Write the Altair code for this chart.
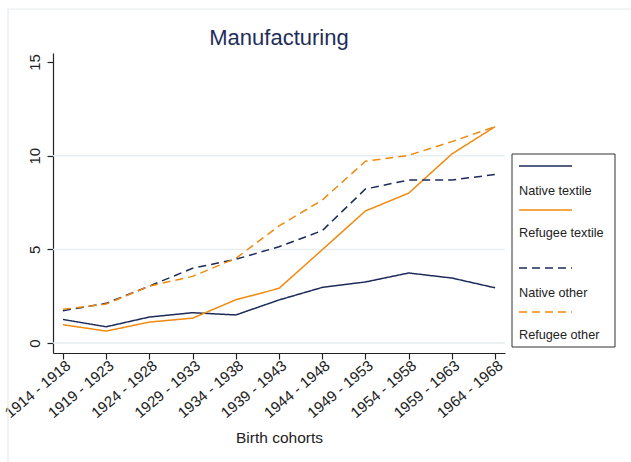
import altair as alt
import pandas as pd

# Birth cohorts on the x axis
cohorts = [
    "1914 - 1918", "1919 - 1923", "1924 - 1928", "1929 - 1933", "1934 - 1938",
    "1939 - 1943", "1944 - 1948", "1949 - 1953", "1954 - 1958", "1959 - 1963",
    "1964 - 1968",
]

# Share employed in manufacturing (%), by group
native_textile = [1.26, 0.87, 1.39, 1.62, 1.50, 2.30, 2.97, 3.26, 3.74, 3.47, 2.95]
refugee_textile = [0.98, 0.64, 1.12, 1.33, 2.31, 2.92, 4.98, 7.05, 8.00, 10.09, 11.55]
native_other = [1.73, 2.12, 3.04, 3.99, 4.47, 5.14, 6.00, 8.22, 8.70, 8.70, 9.00]
refugee_other = [1.80, 2.08, 3.04, 3.56, 4.52, 6.25, 7.63, 9.70, 10.02, 10.75, 11.55]

series_names = ["Native textile", "Refugee textile", "Native other", "Refugee other"]
y_ticks = [0, 5, 10, 15]
grid_values = [0, 5, 10]
title_text = "Manufacturing"

NAVY = "#1c2b5a"
ORANGE = "#f08a0e"
series_colors = [NAVY, ORANGE, NAVY, ORANGE]
series_dashes = [[1, 0], [1, 0], [8, 5], [8, 5]]
FONT = "Liberation Sans"

rows = []
for name, vals in zip(series_names, [native_textile, refugee_textile, native_other, refugee_other]):
    for c, v in zip(cohorts, vals):
        rows.append({"cohort": c, "series": name, "share": v})
df = pd.DataFrame(rows)

W, H = 452, 300
LEFT, TOP = 53, 53

y_scale = alt.Scale(domain=[-0.53, 15.48], nice=False, zero=False)
y_axis = alt.Axis(
    values=y_ticks,
    title=None,
    grid=False,
    labelAngle=270,
    labelAlign="center",
    labelBaseline="bottom",
    labelFontSize=15,
    labelPadding=5,
    tickSize=6,
)

one_row = pd.DataFrame({"k": [0]})

# light outer frame around the graph region
frame = alt.Chart(one_row).mark_rect(
    fill=None, stroke="#e4ecee", strokeWidth=1.2
).encode(
    x=alt.value(8 - LEFT), x2=alt.value(700), y=alt.value(9 - TOP), y2=alt.value(520)
)

# graph title, centred over the plot region
title = alt.Chart(one_row).mark_text(
    text=title_text, fontSize=22, font=FONT, color="#1f2d5a",
    align="center", baseline="middle",
).encode(x=alt.value(W / 2), y=alt.value(38 - TOP))

grid = alt.Chart(pd.DataFrame({"share": grid_values})).mark_rule(
    color="#e6eef1", strokeWidth=1.5
).encode(y=alt.Y("share:Q", scale=y_scale, axis=y_axis))

lines = alt.Chart(df).mark_line(strokeWidth=1.5).encode(
    x=alt.X(
        "cohort:O",
        sort=cohorts,
        scale=alt.Scale(type="point", padding=0.23),
        axis=alt.Axis(
            title="Birth cohorts",
            labelAngle=-40,
            labelAlign="right",
            labelBaseline="middle",
            labelFontSize=15,
            labelPadding=4,
            labelOffset=5,
            tickSize=6,
            titleFontSize=15.5,
            titleFontWeight="normal",
            titleY=84,
            titleBaseline="middle",
        ),
    ),
    y=alt.Y("share:Q", scale=y_scale, axis=y_axis),
    color=alt.Color(
        "series:N",
        scale=alt.Scale(domain=series_names, range=series_colors),
        legend=None,
    ),
    strokeDash=alt.StrokeDash(
        "series:N",
        scale=alt.Scale(domain=series_names, range=series_dashes),
        legend=None,
    ),
)

# Legend box with keys placed above their labels
key_y = [166, 210, 268, 312]
label_y = [191, 233, 293, 335]
legend_layers = [
    alt.Chart(one_row).mark_rect(
        fill="white", stroke="#333333", strokeWidth=1
    ).encode(
        x=alt.value(512 - LEFT), x2=alt.value(615 - LEFT),
        y=alt.value(154 - TOP), y2=alt.value(347 - TOP),
    )
]
for name, col, dash, ky, ly in zip(series_names, series_colors, series_dashes, key_y, label_y):
    legend_layers.append(
        alt.Chart(one_row).mark_rule(
            color=col, strokeWidth=1.5, strokeDash=dash
        ).encode(
            x=alt.value(519 - LEFT), x2=alt.value(572 - LEFT), y=alt.value(ky - TOP)
        )
    )
    legend_layers.append(
        alt.Chart(one_row).mark_text(
            text=name, align="left", baseline="middle", fontSize=12.7,
            font=FONT, color="#222222",
        ).encode(x=alt.value(519 - LEFT), y=alt.value(ly - TOP))
    )

chart = alt.layer(frame, title, grid, lines, *legend_layers).properties(
    width=W,
    height=H,
    padding={"left": LEFT, "top": TOP, "right": 631 - LEFT - W, "bottom": 462 - TOP - H},
    autosize=alt.AutoSizeParams(type="none"),
).configure_view(stroke=None).configure_axis(
    domainColor="#222222",
    tickColor="#222222",
    labelColor="#222222",
    titleColor="#222222",
    labelFont=FONT,
    titleFont=FONT,
    domainWidth=1.2,
    tickWidth=1.2,
)

chart.save("out.html", embed_options={"renderer": "svg", "actions": False})
